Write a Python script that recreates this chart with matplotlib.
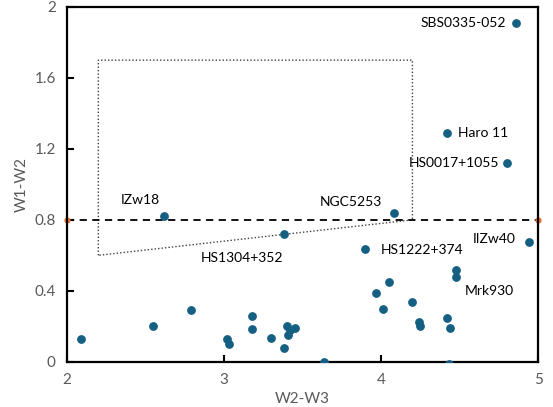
import matplotlib.pyplot as plt
import numpy as np

plt.rcParams['font.family'] = ['Lato', 'DejaVu Sans']

# W2-W3 and W1-W2 colours of the sample
w23 = [2.09, 2.55, 2.79, 2.62, 3.02, 3.03, 3.18, 3.18, 3.30, 3.38, 3.40, 3.41,
       3.42, 3.45, 3.64, 3.38, 4.08, 3.90, 4.05, 3.97, 4.01, 4.20, 4.24, 4.25,
       4.42, 4.44, 4.43, 4.48, 4.48, 4.94, 4.86, 4.42, 4.80]
w12 = [0.13, 0.20, 0.29, 0.82, 0.126, 0.098, 0.256, 0.185, 0.135, 0.08, 0.20,
       0.15, 0.18, 0.19, 0.0, 0.718, 0.84, 0.635, 0.45, 0.39, 0.30, 0.337,
       0.226, 0.203, 0.245, 0.19, -0.01, 0.518, 0.478, 0.676, 1.91, 1.29, 1.12]

# labels: text, x, y, horizontal alignment
labels = [
    ("SBS0335-052", 4.796, 1.91, "right"),
    ("Haro 11", 4.49, 1.288, "left"),
    ("HS0017+1055", 4.753, 1.12, "right"),
    ("NGC5253", 3.81, 0.90, "center"),
    ("IZw18", 2.47, 0.91, "center"),
    ("HS1304+352", 3.115, 0.586, "center"),
    ("HS1222+374", 4.0, 0.63, "left"),
    ("IIZw40", 4.72, 0.69, "center"),
    ("Mrk930", 4.69, 0.40, "center"),
]

# selection box (dotted) and W1-W2 = 0.8 cut
box_x = [2.2, 2.2, 4.2, 4.2, 2.2]
box_y = [0.6, 1.7, 1.7, 0.8, 0.6]
cut_x = [2, 5]
cut_y = [0.8, 0.8]

fig = plt.figure(figsize=(5.53, 4.07), dpi=100)
ax = fig.add_axes([0.121, 0.111, 0.852, 0.872])

ax.plot(box_x, box_y, color="#404040", lw=1.0, ls=(0, (1, 1.5)))
ax.plot(cut_x, cut_y, color="black", lw=1.3, ls=(0, (4, 3)),
        marker="o", ms=3.5, mfc="#E97132", mec="#E97132", clip_on=False)
ax.scatter(w23, w12, s=28, color="#156082", zorder=3)

for t, x, y, ha in labels:
    ax.text(x, y, t, ha=ha, va="center", fontsize=10, color="black")

ax.set_xlim(2, 5)
ax.set_ylim(0, 2)
ax.set_xticks([2, 3, 4, 5])
ax.set_yticks([0, 0.4, 0.8, 1.2, 1.6, 2])
ax.set_xticklabels(["2", "3", "4", "5"])
ax.set_yticklabels(["0", "0.4", "0.8", "1.2", "1.6", "2"])
ax.tick_params(direction="in", length=5, width=1.5, colors="black",
               labelcolor="#595959", labelsize=11, pad=8)
for s in ax.spines.values():
    s.set_linewidth(1.6)
ax.set_xlabel("W2-W3", color="#595959", fontsize=11, labelpad=4)
ax.set_ylabel("W1-W2", color="#595959", fontsize=11, labelpad=4)

fig.savefig("out.png", dpi=100)
